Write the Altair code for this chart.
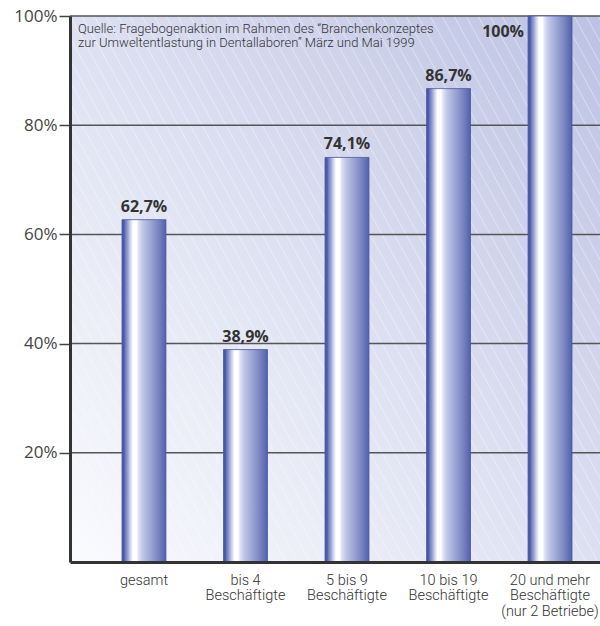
import altair as alt
import pandas as pd

# ---- data ----
categories = [
    "gesamt",
    "bis 4|Beschäftigte",
    "5 bis 9|Beschäftigte",
    "10 bis 19|Beschäftigte",
    "20 und mehr|Beschäftigte|(nur 2 Betriebe)",
]
values = [62.7, 38.9, 74.1, 86.7, 100.0]
value_labels = ["62,7%", "38,9%", "74,1%", "86,7%", "100%"]
grid_values = [20, 40, 60, 80, 100]
y_ticks = [20, 40, 60, 80, 100]
note = "Quelle: Fragebogenaktion im Rahmen des “Branchenkonzeptes\nzur Umweltentlastung in Dentallaboren” März und Mai 1999"

W, H = 530, 546

df = pd.DataFrame({"cat": categories, "value": values, "label": value_labels})
grid_df = pd.DataFrame({"v": grid_values})

LABEL_FONT = "Roboto, Liberation Sans Narrow, DejaVu Sans Condensed, sans-serif"
NUM_FONT = "Open Sans, Lato, sans-serif"

# ---- background gradient ----
bg = alt.Chart(alt.Data(values=[{}])).mark_rect(
    fill=alt.LinearGradient(
        gradient="linear", x1=0, y1=1, x2=1, y2=0,
        stops=[alt.GradientStop(offset=0, color="#fafbfe"),
               alt.GradientStop(offset=0.5, color="#dde0f1"),
               alt.GradientStop(offset=1, color="#bcc2e3")],
    )
).encode(x=alt.value(0), x2=alt.value(W), y=alt.value(0), y2=alt.value(H))

# ---- decorative diagonal hatch ----
hatch = alt.Chart(alt.sequence(start=-28, stop=46, step=1, as_="i")).transform_calculate(
    hx1="datum.i * 12", hx2="datum.i * 12 + 300"
).mark_rule(color="white", opacity=0.4, strokeWidth=1, clip=True).encode(
    x=alt.X("hx1:Q", scale=alt.Scale(domain=[0, W], nice=False, zero=False), axis=None),
    x2="hx2:Q",
    y=alt.value(0),
    y2=alt.value(H),
)

back = alt.layer(bg, hatch)

# ---- main chart ----
x_axis = alt.Axis(
    title=None, labelAngle=0, ticks=False, domainColor="#333333", domainWidth=3,
    labelExpr="split(datum.label, '|')", labelFont=LABEL_FONT, labelFontSize=14.5,
    labelFontWeight=300, labelColor="#333333", labelPadding=11, labelLineHeight=15.5,
    zindex=1,
)
x_scale = alt.Scale(paddingInner=0.567, paddingOuter=0.394, align=0.65)
y_axis = alt.Axis(
    values=y_ticks, labelExpr="datum.value + '%'", title=None, grid=False,
    domainColor="#333333", domainWidth=3, tickColor="#444444", tickSize=11,
    tickWidth=1.5, labelFont=NUM_FONT, labelFontSize=17, labelColor="#444444",
    labelPadding=2, zindex=1,
)
y_scale = alt.Scale(domain=[0, 100], nice=False)

gridlines = alt.Chart(grid_df).mark_rule(color="#555555", strokeWidth=1.5).encode(
    y=alt.Y("v:Q", scale=y_scale, axis=y_axis)
)

bars = alt.Chart(df).mark_bar(
    fill=alt.LinearGradient(
        gradient="linear", x1=0, y1=0, x2=1, y2=0,
        stops=[alt.GradientStop(offset=0.0, color="#4858a5"),
               alt.GradientStop(offset=0.05, color="#4d5ca8"),
               alt.GradientStop(offset=0.07, color="#6a77bb"),
               alt.GradientStop(offset=0.12, color="#8e99cf"),
               alt.GradientStop(offset=0.18, color="#c6cce9"),
               alt.GradientStop(offset=0.25, color="#ffffff"),
               alt.GradientStop(offset=0.33, color="#ffffff"),
               alt.GradientStop(offset=0.38, color="#dde1f3"),
               alt.GradientStop(offset=0.47, color="#c0c6e6"),
               alt.GradientStop(offset=0.62, color="#a2abd8"),
               alt.GradientStop(offset=0.8, color="#7f8ac5"),
               alt.GradientStop(offset=1.0, color="#5261aa")],
    ),
    stroke="#4858a5", strokeWidth=0.8,
).encode(
    x=alt.X("cat:N", sort=categories, scale=x_scale, axis=x_axis),
    y=alt.Y("value:Q", scale=y_scale, axis=y_axis),
)

value_text = alt.Chart(df).transform_filter("datum.value < 100").mark_text(
    dy=-8, baseline="alphabetic", fontWeight="bold", fontSize=16, font=NUM_FONT,
    color="#333333",
).encode(
    x=alt.X("cat:N", sort=categories, scale=x_scale, axis=x_axis),
    y=alt.Y("value:Q", scale=y_scale, axis=y_axis),
    text="label:N",
)

top_text = alt.Chart(df).transform_filter("datum.value >= 100").mark_text(
    dy=21, dx=-26, align="right", baseline="alphabetic", fontWeight="bold",
    fontSize=16, font=NUM_FONT, color="#333333",
).encode(
    x=alt.X("cat:N", sort=categories, scale=x_scale, axis=x_axis),
    y=alt.Y("value:Q", scale=y_scale, axis=y_axis),
    text="label:N",
)

note_text = alt.Chart(alt.Data(values=[{"t": note}])).mark_text(
    align="left", baseline="top", lineBreak="\n", fontSize=13, font=LABEL_FONT,
    fontWeight=300, color="#333333", lineHeight=13.5,
).encode(x=alt.value(8), y=alt.value(7), text="t:N")

main = alt.layer(gridlines, bars, value_text, top_text, note_text)

chart = alt.layer(back, main).resolve_scale(x="independent").properties(
    width=W, height=H,
    autosize=alt.AutoSizeParams(type="none"),
    padding={"left": 70, "top": 16, "right": 0, "bottom": 64},
    background="white",
).configure_view(stroke=None)

chart.save("out.html", embed_options={"renderer": "svg", "actions": False})
